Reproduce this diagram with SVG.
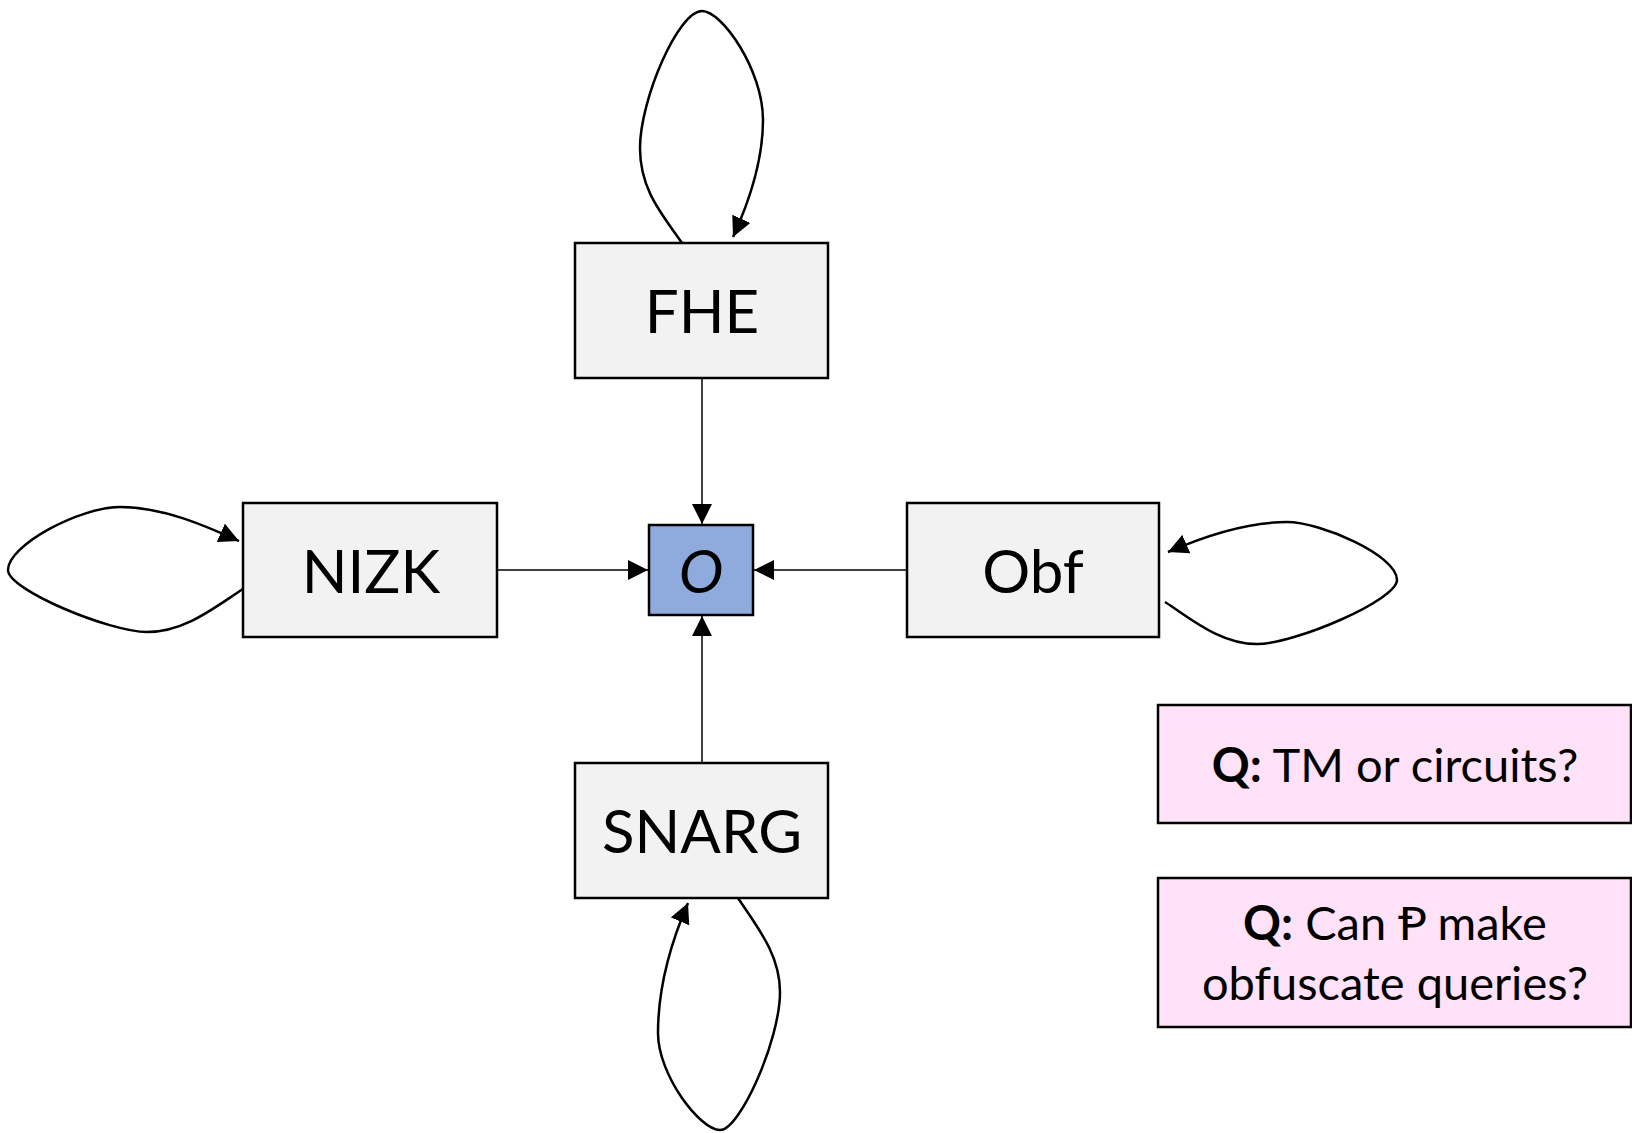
<svg xmlns="http://www.w3.org/2000/svg" width="1632" height="1133" viewBox="0 0 1632 1133">
<style>
.box{fill:#F2F2F2;stroke:#000;stroke-width:2.5}
.q{fill:#FFE1F8;stroke:#000;stroke-width:2.5}
.lbl{font-family:Lato,"Liberation Sans","DejaVu Sans",sans-serif;font-size:60px;fill:#000;text-anchor:middle}
.qt{font-family:Lato,"Liberation Sans","DejaVu Sans",sans-serif;font-size:47px;fill:#000;text-anchor:middle}
.edge{fill:none;stroke:#000;stroke-width:1.5}
.loop{fill:none;stroke:#000;stroke-width:2.5}
</style>
<defs>
<marker id="ah" markerUnits="userSpaceOnUse" markerWidth="20" markerHeight="20" viewBox="0 0 16 16" refX="16" refY="8" orient="auto">
<path d="M0,0 L16,8 L0,16 Z" fill="#000"/>
</marker>
</defs>
<g id="connectors">
<path class="edge" d="M702,378 L702,524" marker-end="url(#ah)"/>
<path class="edge" d="M702,763 L702,616" marker-end="url(#ah)"/>
<path class="edge" d="M497,570 L648,570" marker-end="url(#ah)"/>
<path class="edge" d="M907,570 L754,570" marker-end="url(#ah)"/>
<path class="loop" d="M682,243 C662,214 640,190 640,148 C640,100 678,11 702,11 C722,11 763,70 763,120 C763,160 750,200 733,237" marker-end="url(#ah)"/>
<path class="loop" d="M243,589 C215,607 185,632 147,632 C110,632 8,590 8,570 C8,545 80,507 120,507 C165,507 210,528 239,541" marker-end="url(#ah)"/>
<path class="loop" d="M1165,602 C1190,618 1220,644 1257,644 C1295,644 1397,600 1397,580 C1397,555 1320,522 1287,522 C1245,522 1200,538 1168,552" marker-end="url(#ah)"/>
<path class="loop" d="M738,898 C758,928 780,955 780,992 C780,1040 740,1130 720,1130 C700,1130 658,1075 658,1033 C658,985 672,940 688,903" marker-end="url(#ah)"/>
</g>
<g id="node-fhe">
<rect class="box" x="575" y="243" width="253" height="135"/>
<text class="lbl" x="702" y="333">FHE</text>
</g>
<g id="node-nizk">
<rect class="box" x="243" y="503" width="254" height="134"/>
<text class="lbl" x="371" y="593">NIZK</text>
</g>
<g id="node-o">
<rect x="649" y="525" width="104" height="90" fill="#8FAADC" stroke="#000" stroke-width="2.5"/>
<text class="lbl" x="701" y="593" font-style="italic" font-size="64">O</text>
</g>
<g id="node-obf">
<rect class="box" x="907" y="503" width="252" height="134"/>
<text class="lbl" x="1033" y="593">Obf</text>
</g>
<g id="node-snarg">
<rect class="box" x="575" y="763" width="253" height="135"/>
<text class="lbl" x="702" y="853">SNARG</text>
</g>
<g id="note-tm">
<rect class="q" x="1158" y="705" width="473" height="118"/>
<text class="qt" x="1395" y="782"><tspan font-weight="bold">Q:</tspan> TM or circuits?</text>
</g>
<g id="note-obf">
<rect class="q" x="1158" y="878" width="473" height="149"/>
<text class="qt" x="1395" y="940"><tspan font-weight="bold">Q:</tspan> Can Ᵽ make</text>
<text class="qt" x="1395" y="1000">obfuscate queries?</text>
</g>
</svg>
